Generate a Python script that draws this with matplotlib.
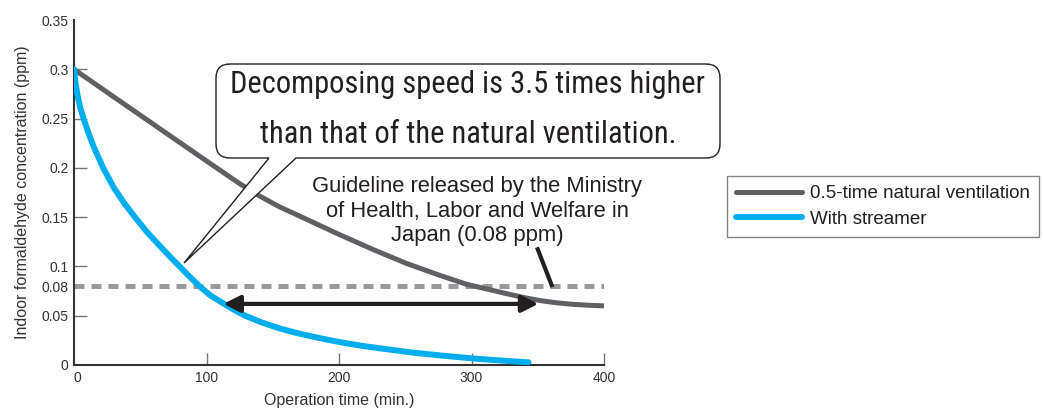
import numpy as np
import matplotlib.pyplot as plt
from matplotlib.path import Path
from matplotlib.patches import PathPatch
from matplotlib.transforms import Affine2D

# readings (time in min, concentration in ppm)
natural_t = [0, 30, 65, 100, 125, 140, 155, 176, 200, 226, 251, 276, 296, 315, 327, 340, 352, 365, 377, 390, 400]
natural_ppm = [0.300, 0.272, 0.2395, 0.207, 0.184, 0.1715, 0.1605, 0.1475, 0.1325, 0.117, 0.103, 0.091,
               0.082, 0.076, 0.0722, 0.0683, 0.0653, 0.063, 0.0615, 0.0605, 0.060]
streamer_t = [0, 1, 2.5, 4.5, 7.2, 11, 15, 22, 30, 38, 46, 55, 65, 72, 80, 87, 95, 103, 112.7, 121, 130,
              142, 155.5, 168, 180.6, 193, 205.8, 218, 231, 256, 281, 306, 325, 343]
streamer_ppm = [0.300, 0.288, 0.275, 0.262, 0.250, 0.235, 0.221, 0.200, 0.180, 0.164, 0.150, 0.135, 0.1205,
                0.1105, 0.0995, 0.0900, 0.0795, 0.0705, 0.0625, 0.0558, 0.0495, 0.0430, 0.0370, 0.0325,
                0.0287, 0.0252, 0.0220, 0.0193, 0.0169, 0.0125, 0.0091, 0.0061, 0.0043, 0.0027]
guideline = 0.08
arrow_from, arrow_to, arrow_ppm = 112.7, 350.5, 0.062
pointer_t, pointer_ppm = [350, 360.5], [0.1174, 0.081]

y_ticks = [0, 0.05, 0.08, 0.1, 0.15, 0.2, 0.25, 0.3, 0.35]
y_labels = ['0', '0.05', '0.08', '0.1', '0.15', '0.2', '0.25', '0.3', '0.35']
x_ticks = [0, 100, 200, 300, 400]

GRAY = '#5f6063'
BLUE = '#00aeef'
DASH = '#98999b'
INK = '#231f20'

plt.rcParams['font.family'] = ['Liberation Sans', 'DejaVu Sans']

W, H = 1043, 412
fig = plt.figure(figsize=(W / 100, H / 100), dpi=100)
ax = fig.add_axes([74 / W, (H - 365) / H, 530 / W, 345 / H])

ax.plot([0, 400], [guideline, guideline], color=DASH, lw=3.6, dashes=(2.0, 1.4), zorder=2)
ax.plot(natural_t, natural_ppm, color=GRAY, lw=3.6, solid_capstyle='round', solid_joinstyle='round',
        label='0.5-time natural ventilation', zorder=3)
ax.plot(streamer_t, streamer_ppm, color=BLUE, lw=4.3, solid_capstyle='round', solid_joinstyle='round',
        label='With streamer', zorder=3)

ax.annotate('', xy=(arrow_to, arrow_ppm), xytext=(arrow_from, arrow_ppm),
            arrowprops=dict(arrowstyle='<|-|>', color=INK, lw=3, mutation_scale=25,
                            shrinkA=0, shrinkB=0), zorder=4)
ax.plot(pointer_t, pointer_ppm, color=INK, lw=3, zorder=4)

ax.set_xlim(0, 400)
ax.set_ylim(0, 0.35)
ax.set_xticks(x_ticks)
ax.set_yticks(y_ticks)
ax.set_yticklabels(y_labels)
ax.tick_params(direction='in', length=9, width=1, color='#777', labelsize=10, labelcolor='#333', pad=4)
for i, v in enumerate(y_ticks):
    if v in (0, 0.08, 0.35):
        ax.yaxis.get_major_ticks()[i].tick1line.set_visible(False)
ax.xaxis.get_major_ticks()[0].tick1line.set_visible(False)
ax.get_xticklabels()[0].set_ha('left')
for s in ['top', 'right']:
    ax.spines[s].set_visible(False)
for s in ['left', 'bottom']:
    ax.spines[s].set_color('#333')
    ax.spines[s].set_linewidth(1.5)
ax.set_xlabel('Operation time (min.)', fontsize=11.5, color='#333', labelpad=6)
ax.set_ylabel('Indoor formaldehyde concentration (ppm)', fontsize=11.5, color='#333', labelpad=8)

# callout, drawn in image pixel coordinates (origin top-left)
img = Affine2D().scale(1, -1).translate(0, H).scale(1 / W, 1 / H) + fig.transFigure
L, R, T, B, r = 216, 720, 64, 158, 14
verts = [(L + r, T), (R - r, T), (R, T), (R, T + r), (R, B - r), (R, B), (R - r, B),
         (296, B), (184, 263), (269, B), (L + r, B), (L, B), (L, B - r), (L, T + r), (L, T), (L + r, T),
         (L + r, T)]
codes = [Path.MOVETO, Path.LINETO, Path.CURVE3, Path.CURVE3, Path.LINETO, Path.CURVE3, Path.CURVE3,
         Path.LINETO, Path.LINETO, Path.LINETO, Path.LINETO, Path.CURVE3, Path.CURVE3, Path.LINETO,
         Path.CURVE3, Path.CURVE3, Path.CLOSEPOLY]
fig.add_artist(PathPatch(Path(verts, codes), transform=img, fc='white', ec=INK, lw=1.0, zorder=5))
narrow = ['Roboto Condensed', 'Archivo Narrow', 'DejaVu Sans']
fig.text(468, 92.7, 'Decomposing speed is 3.5 times higher', transform=img, ha='center', va='baseline',
         fontsize=22, family=narrow, color=INK, zorder=6)
fig.text(468, 143, 'than that of the natural ventilation.', transform=img, ha='center', va='baseline',
         fontsize=22, family=narrow, color=INK, zorder=6)

for i, line in enumerate(['Guideline released by the Ministry', 'of Health, Labor and Welfare in',
                          'Japan (0.08 ppm)']):
    fig.text(477, 192 + 24.5 * i, line, transform=img, ha='center', va='baseline',
             fontsize=15.8, color=INK)

leg = fig.legend(loc='upper left', bbox_to_anchor=(727 / W, 1 - 176 / H), fontsize=13.5,
                 frameon=True, fancybox=False, edgecolor='#666', handlelength=3.5,
                 handletextpad=0.4, borderpad=0.5, labelspacing=0.42, borderaxespad=0)
leg.get_frame().set_linewidth(1.0)
for t in leg.get_texts():
    t.set_color(INK)

fig.savefig('out.png', dpi=100)
